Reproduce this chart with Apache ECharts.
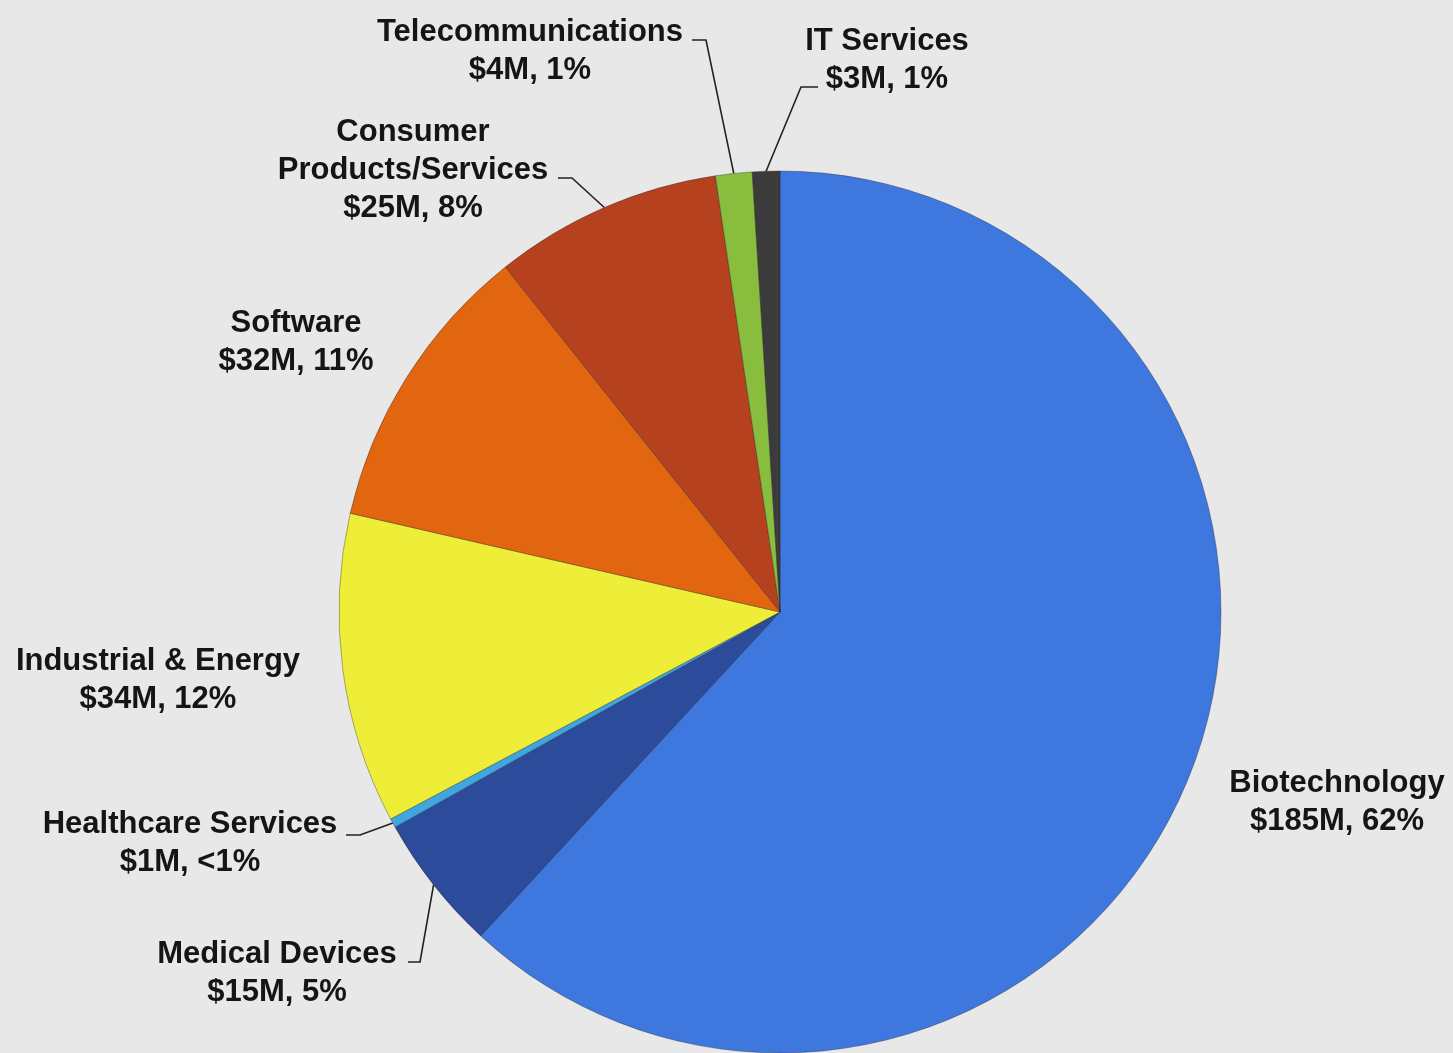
<!DOCTYPE html>
<html>
<head>
<meta charset="utf-8">
<title>Investment by Sector</title>
<script src="https://cdn.jsdelivr.net/npm/echarts@6/dist/echarts.min.js"></script>
<style>
  html, body { margin: 0; padding: 0; background: #e8e8e8; }
  #chart { width: 1453px; height: 1053px; }
</style>
</head>
<body>
<div id="chart"></div>
<script>
// Sectors, in clockwise order starting at 12 o'clock
const sectors = [
  'Biotechnology',
  'Medical Devices',
  'Healthcare Services',
  'Industrial & Energy',
  'Software',
  'Consumer\nProducts/Services',
  'Telecommunications',
  'IT Services'
];
// Amount invested, $M
const amounts = [185, 15, 1, 34, 32, 25, 4, 3];
// Share text shown under each sector name
const shares = ['62%', '5%', '<1%', '12%', '11%', '8%', '1%', '1%'];

const sliceColors = [
  '#3e78df', '#2c4b9a', '#3fa6df', '#eeee38',
  '#e2660f', '#b6411f', '#88bd3e', '#3b3b3b'
];

// Where each label block sits, and the bend of its leader line (null = no line)
const labelSpots = [
  { x: 1337, y: 802, bend: null },
  { x: 277,  y: 973, bend: [[420, 962], [408, 962]] },
  { x: 190,  y: 843, bend: [[360, 835], [346, 835]] },
  { x: 158,  y: 680, bend: null },
  { x: 296,  y: 342, bend: null },
  { x: 413,  y: 170, bend: [[572, 178], [558, 178]] },
  { x: 530,  y: 51,  bend: [[706, 40], [692, 40]] },
  { x: 887,  y: 60,  bend: [[801, 87], [818, 87]] }
];

const pieData = sectors.map((name, i) => ({
  name: name,
  value: amounts[i],
  share: shares[i],
  itemStyle: { color: sliceColors[i] },
  labelLine: { show: labelSpots[i].bend !== null }
}));

const chart = echarts.init(document.getElementById('chart'), null, { renderer: 'canvas' });

chart.setOption({
  backgroundColor: '#e8e8e8',
  animation: false,
  series: [{
    type: 'pie',
    center: [780, 612],
    radius: 441,
    startAngle: 90,
    clockwise: true,
    data: pieData,
    itemStyle: {
      borderColor: 'rgba(30,30,30,0.35)',
      borderWidth: 1
    },
    label: {
      show: true,
      position: 'outside',
      formatter: p => p.name + '\n$' + p.value + 'M, ' + p.data.share,
      fontFamily: '"Liberation Sans", Arial, sans-serif',
      fontWeight: 'bold',
      fontSize: 31,
      lineHeight: 38,
      color: '#151515',
      align: 'center',
      width: 460,
      overflow: 'none'
    },
    labelLine: {
      show: true,
      length: 20,
      length2: 20,
      smooth: false,
      lineStyle: { color: '#222222', width: 1.6 }
    },
    labelLayout: function (params) {
      const spot = labelSpots[params.dataIndex];
      const out = {
        x: spot.x,
        y: spot.y,
        align: 'center',
        verticalAlign: 'middle'
      };
      if (spot.bend && params.labelLinePoints) {
        out.labelLinePoints = [params.labelLinePoints[0]].concat(spot.bend);
      }
      return out;
    }
  }]
});
</script>
</body>
</html>
